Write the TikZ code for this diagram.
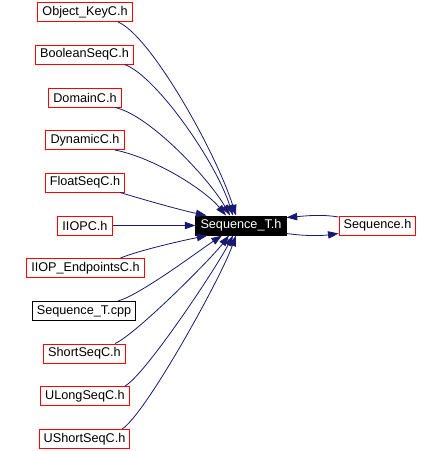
\documentclass[tikz,border=0pt]{standalone}
\usepackage{fontspec}
\setmainfont{Liberation Sans}
\usetikzlibrary{calc,arrows.meta}
\definecolor{edgeblue}{RGB}{25,25,112}

\begin{document}
\begin{tikzpicture}[x=0.75pt,y=-0.75pt,
        file/.style={draw=red,line width=0.75pt,inner xsep=3.4pt,inner ysep=0pt,
            minimum height=14.25pt,font=\fontsize{9.5}{11}\selectfont},
        plainfile/.style={file,draw=black},
        rootfile/.style={file,draw=black,fill=black,text=white},
        edge/.style={draw=edgeblue,line width=0.6pt,-{Triangle[length=8pt,width=5.5pt]}}]
            \useasboundingbox (0,0) rectangle (441,451);

            \node[rootfile] (seqT) at (241,225.5) {Sequence\_T.h};
            \node[file] (seqh) at (377.5,225.5) {Sequence.h};

            \node[file] (okey) at (85,12) {Object\_KeyC.h};
            \node[file] (bool) at (84.5,54.5) {BooleanSeqC.h};
            \node[file] (domain) at (85,97.5) {DomainC.h};
            \node[file] (dynamic) at (85,140) {DynamicC.h};
            \node[file] (float) at (85,182.5) {FloatSeqC.h};
            \node[file] (iiopc) at (85,225.5) {IIOPC.h};
            \node[file] (endpoints) at (85.5,268) {IIOP\_EndpointsC.h};
            \node[plainfile] (seqcpp) at (84,311) {Sequence\_T.cpp};
            \node[file] (short) at (84.5,353.5) {ShortSeqC.h};
            \node[file] (ulong) at (85,396) {ULongSeqC.h};
            \node[file] (ushort) at (84.5,439) {UShortSeqC.h};

            % files above the root
            \draw[edge] ($(okey.south)+(33,0)$) .. controls (150,35) and (215,150) .. ($(seqT.north)+(-5,0)$);
            \draw[edge] ($(bool.south)+(40,0)$) .. controls (155,75) and (215,160) .. ($(seqT.north)+(-8,0)$);
            \draw[edge] ($(domain.south)+(30,0)$) .. controls (150,115) and (210,180) .. ($(seqT.north)+(-11,0)$);
            \draw[edge] ($(dynamic.south)+(30,0)$) .. controls (155,158) and (205,190) .. ($(seqT.north)+(-15,0)$);
            \draw[edge] ($(float.south)+(35,0)$) .. controls (145,200) and (180,210) .. ($(seqT.north west)+(11,0)$);
            \draw[edge] (iiopc) -- (seqT);

            % files below the root
            \draw[edge] ($(endpoints.north)+(35,0)$) .. controls (140,250) and (185,240) .. ($(seqT.south west)+(12,0)$);
            \draw[edge] ($(seqcpp.north)+(34,0)$) .. controls (140,295) and (200,250) .. ($(seqT.south)+(-19,0)$);
            \draw[edge] ($(short.north)+(30.5,0)$) .. controls (135,335) and (210,260) .. ($(seqT.south)+(-12,0)$);
            \draw[edge] ($(ulong.north)+(40,0)$) .. controls (145,375) and (215,270) .. ($(seqT.south)+(-8,0)$);
            \draw[edge] ($(ushort.north)+(37.5,0)$) .. controls (145,415) and (220,280) .. ($(seqT.south)+(-5,0)$);

            % the two way link
            \draw[edge] ($(seqh.north west)+(0,1.5)$) .. controls (320,214) and (305,216) .. ($(seqT.north east)+(0,2)$);
            \draw[edge] ($(seqT.south east)+(0,-2)$) .. controls (305,236) and (320,236) .. ($(seqh.south west)+(0,-2)$);
        \end{tikzpicture}
\end{document}
